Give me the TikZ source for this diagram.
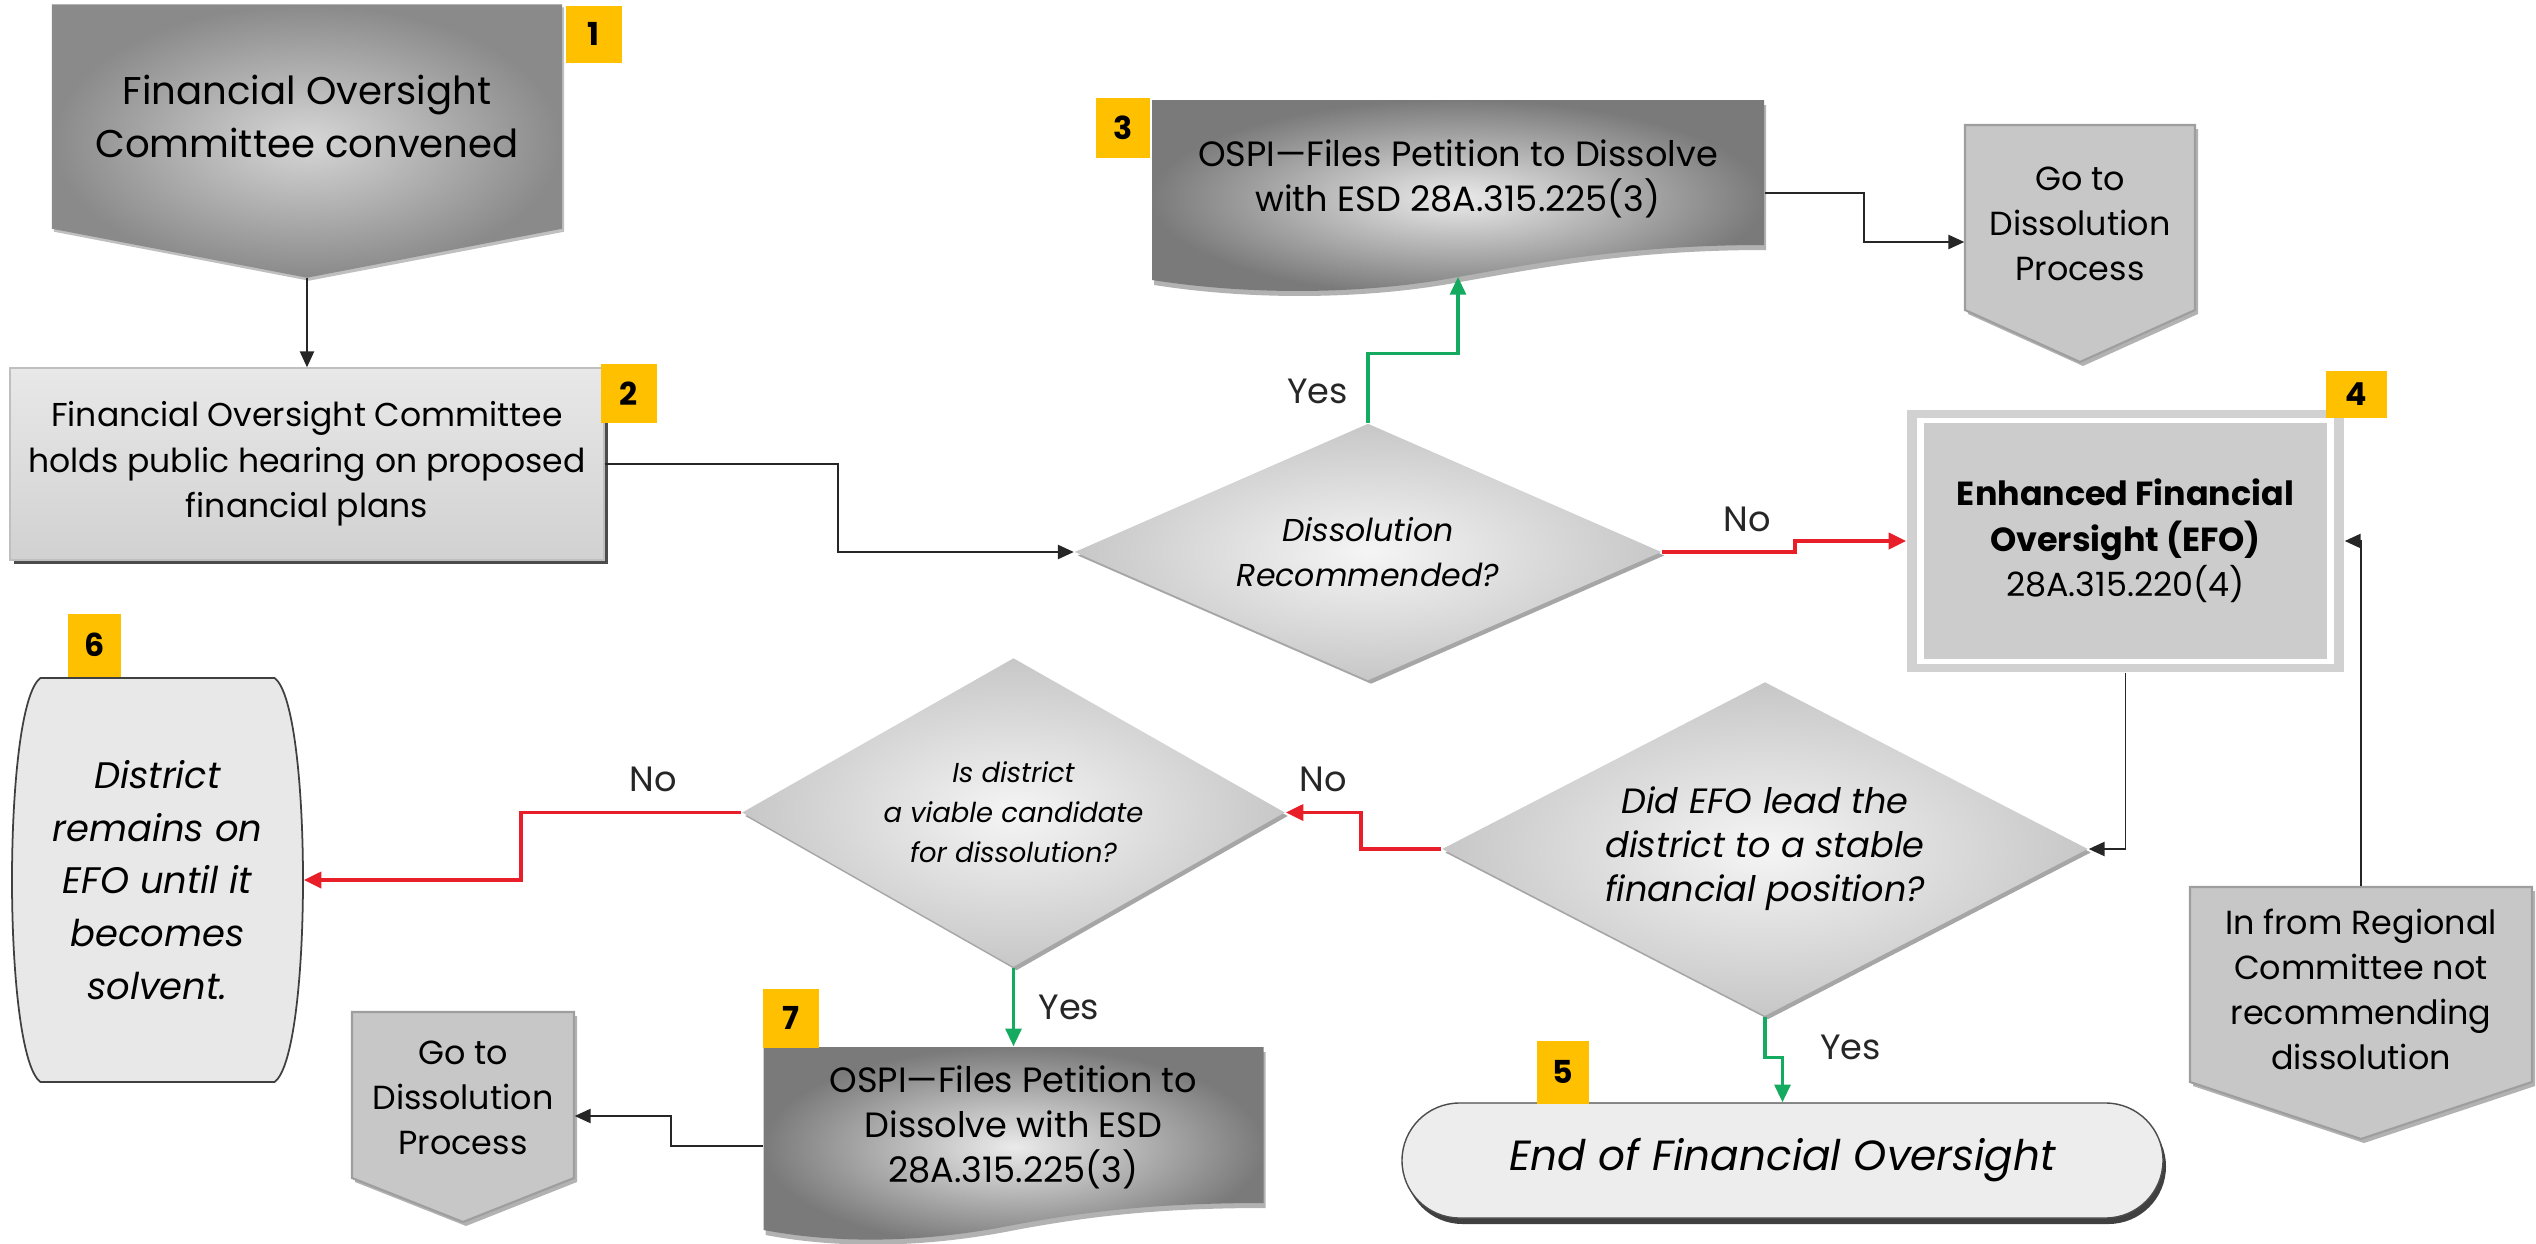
\documentclass[tikz,border=0pt]{standalone}
\usepackage{fontspec}
\setmainfont{Poppins}
\usetikzlibrary{arrows.meta, positioning, calc, shapes.geometric, shadows}

\definecolor{badgegold}{RGB}{255,192,0}
\definecolor{nored}{RGB}{232,30,40}
\definecolor{yesgreen}{RGB}{20,170,95}

\pgfdeclarelayer{background}
\pgfsetlayers{background,main}

\begin{document}
\begin{tikzpicture}[
    font=\fontsize{10}{12.8}\selectfont,
    shapetext/.style={align=center, inner sep=0pt},
    process/.style={draw=black!25, top color=black!9, bottom color=black!18, minimum width=5.94cm, minimum height=1.92cm, align=center, inner sep=0pt,
        font=\fontsize{9.4}{13}\selectfont,
        drop shadow={shadow xshift=0.035cm, shadow yshift=-0.04cm, fill=black!70, opacity=1}},
    decision/.style={diamond, inner sep=0pt, align=center, inner color=black!4, outer color=black!22,
        drop shadow={shadow xshift=0.03cm, shadow yshift=-0.035cm, fill=black!35, opacity=1}},
    terminal/.style={rectangle, rounded corners=0.575cm, minimum width=7.61cm, minimum height=1.15cm, fill=black!7, draw=black!70,
        font=\itshape\fontsize{12}{14}\selectfont, drop shadow={shadow xshift=0.03cm, shadow yshift=-0.06cm, fill=black!75, opacity=1}},
    efo/.style={fill=black!18, minimum width=4.37cm, minimum height=2.62cm, align=center, inner sep=0pt, font=\fontsize{9.5}{13}\selectfont,
        path picture={
            \fill[white] ([shift={(0.10,-0.08)}]path picture bounding box.north west) rectangle ([shift={(-0.10,0.08)}]path picture bounding box.south east);
            \fill[black!20] ([shift={(0.17,-0.13)}]path picture bounding box.north west) rectangle ([shift={(-0.17,0.13)}]path picture bounding box.south east);
        }},
    convshade/.style={inner color=black!16, outer color=black!46},
    docshade/.style={inner color=black!8, outer color=black!52, drop shadow={shadow xshift=0.02cm, shadow yshift=-0.05cm, fill=black!30, opacity=1}},
    pentflat/.style={fill=black!22, draw=black!38, line width=0.6pt, drop shadow={shadow xshift=0.03cm, shadow yshift=-0.04cm, fill=black!30, opacity=1}},
    barrel/.style={fill=black!9, draw=black!75, line width=0.5pt},
    badge/.style={anchor=north west, fill=badgegold, minimum width=0.56cm, minimum height=0.57cm, inner sep=0pt, font=\bfseries\fontsize{9}{9}\selectfont},
    flow/.style={-{Triangle[length=4.5pt, width=4pt]}, black!85, line width=0.55pt},
    noflow/.style={-{Triangle[length=5pt, width=4.5pt]}, nored, line width=1.1pt},
    yesflow/.style={-{Triangle[length=5pt, width=4.5pt]}, yesgreen, line width=0.9pt},
    flowlabel/.style={font=\fontsize{10}{12}\selectfont, inner sep=1pt, text=black!85}
]

\useasboundingbox (0,0) rectangle (25.36,-12.44);

% --- Nodes ---
\node[shapetext, minimum width=5.09cm, minimum height=2.23cm, font=\fontsize{11}{15}\selectfont] (start) at (3.07,-1.165) {Financial Oversight\\Committee convened};
\coordinate (start tip) at ($(start.south)+(0,-0.49)$);

\node[process] (hear) at (3.07,-4.64) {Financial Oversight Committee\\holds public hearing on proposed\\financial plans};

\node[decision, minimum width=5.87cm, minimum height=2.57cm, aspect=2.28, font=\itshape\fontsize{9}{12.8}\selectfont] (recq) at (13.68,-5.52) {Dissolution\\Recommended?};

\node[shapetext, minimum width=6.12cm, minimum height=1.57cm] (pet1) at (14.58,-1.785) {OSPI—Files Petition to Dissolve\\with ESD 28A.315.225(3)};
\coordinate (pet1 wave) at ($(pet1)+(0,-0.985)$);

\node[shapetext, minimum width=2.30cm, minimum height=1.98cm, font=\fontsize{9.5}{12.8}\selectfont] (goto1) at (20.80,-2.24) {Go to\\Dissolution\\Process};

\node[efo] (efo) at (21.255,-5.41) {\textbf{Enhanced Financial}\\\textbf{Oversight (EFO)}\\28A.315.220(4)};

\node[decision, minimum width=6.46cm, minimum height=3.34cm, aspect=1.93, font=\itshape\fontsize{10}{12.5}\selectfont] (stable) at (17.65,-8.49) {Did EFO lead the\\district to a stable\\financial position?};

\node[shapetext, minimum width=3.42cm, minimum height=2.04cm, font=\fontsize{9.5}{12.8}\selectfont] (regional) at (23.61,-9.89) {In from Regional\\Committee not\\recommending\\dissolution};

\node[terminal] (end) at (17.825,-11.605) {End of Financial Oversight};

\node[decision, minimum width=5.43cm, minimum height=3.09cm, aspect=1.76, font=\itshape\fontsize{7.8}{11.4}\selectfont] (viable) at (10.135,-8.125) {Is district\\a viable candidate\\for dissolution?};

\node[shapetext, minimum width=2.91cm, minimum height=4.04cm, font=\itshape\fontsize{10.5}{15}\selectfont] (stay) at (1.575,-8.80) {District\\remains on\\EFO until it\\becomes\\solvent.};

\node[shapetext, minimum width=5.00cm, minimum height=1.60cm] (pet2) at (10.135,-11.27) {OSPI—Files Petition to\\Dissolve with ESD\\28A.315.225(3)};

\node[shapetext, minimum width=2.22cm, minimum height=1.72cm, font=\fontsize{9.5}{12.8}\selectfont] (goto2) at (4.63,-10.98) {Go to\\Dissolution\\Process};

% --- Shape outlines (behind the text) ---
\begin{pgfonlayer}{background}
\path[convshade, drop shadow={shadow xshift=0.02cm, shadow yshift=-0.03cm, fill=black!25, opacity=1}]
    (start.north west) -- (start.north east) -- (start.south east) -- (start tip) -- (start.south west) -- cycle;
\begin{scope}[shift={(pet1.center)}]
    \path[docshade] (-3.06,0.785) -- (3.06,0.785) -- (3.06,-0.665) .. controls (1.72,-0.665) and (0.82,-0.84) .. (0,-0.985)
        .. controls (-0.88,-1.15) and (-2.0,-1.18) .. (-3.06,-1.015) -- cycle;
\end{scope}
\begin{scope}[shift={(pet2.center)}]
    \path[docshade] (-2.50,0.80) -- (2.50,0.80) -- (2.50,-0.76) .. controls (1.4,-0.76) and (0.7,-0.85) .. (0,-0.98)
        .. controls (-0.7,-1.12) and (-1.6,-1.20) .. (-2.50,-1.03) -- cycle;
\end{scope}
\begin{scope}[shift={(goto1.center)}]
    \path[pentflat] (-1.15,0.99) -- (1.15,0.99) -- (1.15,-0.86) -- (0,-1.38) -- (-1.15,-0.86) -- cycle;
\end{scope}
\begin{scope}[shift={(goto2.center)}]
    \path[pentflat] (-1.11,0.86) -- (1.11,0.86) -- (1.11,-0.80) -- (0,-1.24) -- (-1.11,-0.80) -- cycle;
\end{scope}
\begin{scope}[shift={(regional.center)}]
    \path[pentflat] (-1.71,1.02) -- (1.71,1.02) -- (1.71,-0.93) -- (0,-1.50) -- (-1.71,-0.93) -- cycle;
\end{scope}
\begin{scope}[shift={(stay.center)}]
    \path[barrel] (-1.17,2.02) -- (1.17,2.02) .. controls (1.55,1.75) and (1.55,-1.75) .. (1.17,-2.02)
        -- (-1.17,-2.02) .. controls (-1.55,-1.75) and (-1.55,1.75) .. (-1.17,2.02) -- cycle;
\end{scope}
\end{pgfonlayer}

% --- Step numbers ---
\node[badge] (b1) at (5.65,-0.05) {1};
\node[badge, minimum height=0.59cm] (b2) at (6.00,-3.63) {2};
\node[badge, minimum width=0.54cm, minimum height=0.60cm] (b3) at (10.95,-0.97) {3};
\node[badge, minimum width=0.61cm, minimum height=0.47cm] (b4) at (23.25,-3.70) {4};
\node[badge, minimum width=0.52cm, minimum height=0.63cm] (b5) at (15.36,-10.40) {5};
\node[badge, minimum width=0.53cm, minimum height=0.63cm] (b6) at (0.67,-6.13) {6};
\node[badge, minimum height=0.59cm] (b7) at (7.62,-9.88) {7};

% --- Connectors ---
\draw[flow] (start tip) -- (hear.north);
\draw[flow] (hear.east) -- ++(2.33,0) |- (recq.west);

\draw[yesflow] (recq.north) -- node[flowlabel, left=1.5mm, pos=0.45] {Yes} ++(0,0.69) -| (pet1 wave);
\draw[flow] ($(pet1.east)+(0,-0.145)$) -- ++(0.99,0) |- ($(goto1.west)+(0,-0.18)$);

\draw[noflow] (recq.east) -- node[flowlabel, above=1.5mm, pos=0.64] {No} ++(1.33,0) |- (efo.west);
\draw[flow] (regional.north) |- (efo.east);
\draw[flow] (efo.south) |- (stable.east);

\draw[yesflow] (stable.south) -- node[flowlabel, right=5mm, pos=0.75] {Yes} ++(0,-0.41) -| (end.north);
\draw[noflow] (stable.west) -- ++(-0.8,0) |- node[flowlabel, pos=0.75, above=1.5mm] {No} (viable.east);

\draw[noflow] (viable.west) -- node[flowlabel, pos=0.4, above=1.5mm] {No} ++(-2.2,0) |- (stay.east);
\draw[yesflow] (viable.south) -- node[flowlabel, right=2mm] {Yes} (pet2.north);
\draw[flow] ($(pet2.west)+(0,-0.19)$) -- ++(-0.92,0) |- ($(goto2.east)+(0,-0.18)$);

\end{tikzpicture}
\end{document}
